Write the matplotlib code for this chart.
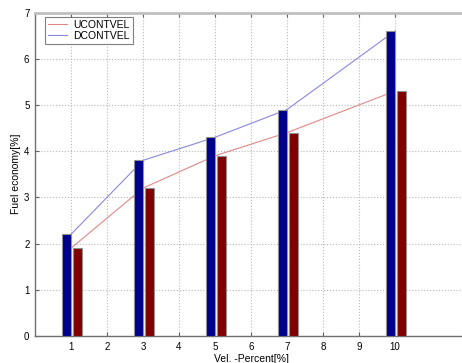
import numpy as np
import matplotlib
matplotlib.use("Agg")
import matplotlib.pyplot as plt

plt.rcParams['font.family'] = ['Liberation Sans', 'DejaVu Sans']

vel = [1, 3, 5, 7, 10]
ucontvel = [1.9, 3.2, 3.9, 4.4, 5.3]
dcontvel = [2.2, 3.8, 4.3, 4.9, 6.6]
xticks = list(range(1, 11))

W, H = 462, 363
fig = plt.figure(figsize=(W / 100, H / 100), dpi=100)
# axes runs slightly past the right edge of the picture, like the original crop
ax = fig.add_axes([35 / W, 1 - 336 / H, (467 - 35) / W, (336 - 12.5) / H])

x = np.array(vel, dtype=float)
ax.bar(x - 0.125, dcontvel, width=0.25, color='#00008c', edgecolor='#909090',
       linewidth=0.8, zorder=3)
ax.bar(x + 0.175, ucontvel, width=0.25, color='#800000', edgecolor='#909090',
       linewidth=0.8, zorder=3)
ax.plot(vel, ucontvel, color='#e08888', lw=0.8, label='UCONTVEL', zorder=2)
ax.plot(vel, dcontvel, color='#8888e0', lw=0.8, label='DCONTVEL', zorder=2)

ax.set_xlim(0, 12)
ax.set_ylim(0, 7)
ax.set_xticks(xticks)
ax.set_yticks(range(0, 8))
ax.grid(True, color='#b8b8b8', linestyle=':', linewidth=0.8, zorder=0)
ax.tick_params(direction='in', top=True, labelsize=7, length=3,
               color='#606060', pad=4)
for s in ['left', 'bottom']:
    ax.spines[s].set_color('#707070')
    ax.spines[s].set_linewidth(1.0)
ax.spines['top'].set_color('#c0c0c0')
ax.spines['top'].set_linewidth(2.0)
ax.spines['right'].set_visible(False)

ax.set_xlabel('Vel. -Percent[%]', fontsize=7.5, labelpad=2)
ax.set_ylabel('Fuel economy[%]', fontsize=7.5, labelpad=2)

leg = ax.legend(loc='upper left', bbox_to_anchor=(0.023, 0.987), fontsize=7.5,
                frameon=True, fancybox=False, borderpad=0.3, handlelength=1.8,
                handletextpad=0.6, labelspacing=0.1, borderaxespad=0)
leg.get_frame().set_edgecolor('#606060')
leg.get_frame().set_linewidth(0.8)

fig.savefig('out.png', dpi=100)
